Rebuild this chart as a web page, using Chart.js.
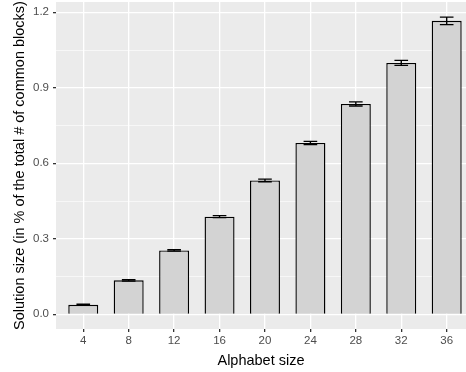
<!DOCTYPE html>
<html>
<head>
<meta charset="utf-8">
<script src="https://cdn.jsdelivr.net/npm/chart.js@4"></script>
<style>
  html, body { margin: 0; padding: 0; background: #fff; }
  #wrap { width: 466px; height: 372px; }
</style>
</head>
<body>
<div id="wrap"><canvas id="solutionChart" width="466" height="372"></canvas></div>
<script>
const alphabetSizes = [4, 8, 12, 16, 20, 24, 28, 32, 36];
const solutionSize = [0.038, 0.135, 0.254, 0.388, 0.532, 0.681, 0.836, 0.999, 1.166];
const solutionErr = [0.002, 0.003, 0.003, 0.004, 0.005, 0.006, 0.008, 0.010, 0.015];
const yTicks = [0, 0.15, 0.3, 0.45, 0.6, 0.75, 0.9, 1.05, 1.2];

const FONT = 'Liberation Sans, Arial, Helvetica, sans-serif';

// grey ggplot panel behind the grid
const panelBackground = {
  id: 'panelBackground',
  beforeDraw(chart) {
    const { ctx, chartArea: a } = chart;
    ctx.save();
    ctx.fillStyle = '#EBEBEB';
    ctx.fillRect(a.left, a.top, a.right - a.left, a.bottom - a.top);
    ctx.restore();
  }
};

// error bars from the mean +/- err arrays
const errorBars = {
  id: 'errorBars',
  afterDatasetsDraw(chart) {
    const { ctx, scales: { x, y } } = chart;
    const half = (x.getPixelForValue(4) - x.getPixelForValue(0)) * 0.15;
    ctx.save();
    ctx.strokeStyle = '#000';
    ctx.lineWidth = 1.4;
    alphabetSizes.forEach((a, i) => {
      const px = x.getPixelForValue(a);
      const hi = y.getPixelForValue(solutionSize[i] + solutionErr[i]);
      const lo = y.getPixelForValue(solutionSize[i] - solutionErr[i]);
      ctx.beginPath();
      ctx.moveTo(px, hi); ctx.lineTo(px, lo);
      ctx.moveTo(px - half, hi); ctx.lineTo(px + half, hi);
      ctx.moveTo(px - half, lo); ctx.lineTo(px + half, lo);
      ctx.stroke();
    });
    ctx.restore();
  }
};

const isMajor = v => Math.abs(Math.round(v / 0.3) * 0.3 - v) < 1e-6;

const config = {
  type: 'bar',
  data: {
    datasets: [{
      data: alphabetSizes.map((a, i) => ({ x: a, y: solutionSize[i] })),
      backgroundColor: '#D3D3D3',
      borderColor: '#000',
      borderWidth: 1.4,
      categoryPercentage: 1,
      barPercentage: 0.66
    }]
  },
  options: {
    responsive: false,
    animation: false,
    layout: { padding: { top: 2, right: 0, left: 0, bottom: 0 } },
    plugins: {
      legend: { display: false },
      tooltip: { enabled: false }
    },
    scales: {
      x: {
        type: 'linear',
        offset: false,
        min: 1.6,
        max: 37.7,
        afterBuildTicks: scale => { scale.ticks = alphabetSizes.map(v => ({ value: v })); },
        afterFit: scale => {
          scale.height = 43;
          scale.paddingLeft = 0;
          scale.paddingRight = 0;
        },
        border: { display: false },
        grid: {
          offset: false,
          color: '#FFFFFF',
          lineWidth: 1.3,
          tickColor: '#333333',
          tickLength: 3
        },
        ticks: {
          color: '#4D4D4D',
          font: { family: FONT, size: 11.5 },
          padding: 2,
          maxRotation: 0,
          callback: v => String(v)
        },
        title: {
          display: true,
          text: 'Alphabet size',
          color: '#000',
          font: { family: FONT, size: 14.5 },
          padding: { top: 0, bottom: 2 }
        }
      },
      y: {
        type: 'linear',
        min: -0.0584,
        max: 1.241,
        afterBuildTicks: scale => { scale.ticks = yTicks.map(v => ({ value: v })); },
        afterFit: scale => {
          scale.width = 56;
          scale.paddingTop = 0;
          scale.paddingBottom = 0;
        },
        border: { display: false },
        grid: {
          color: '#FFFFFF',
          lineWidth: ctx => isMajor(ctx.tick.value) ? 1.3 : 0.6,
          tickColor: ctx => isMajor(ctx.tick.value) ? '#333333' : 'rgba(0,0,0,0)',
          tickLength: 3
        },
        ticks: {
          color: '#4D4D4D',
          font: { family: FONT, size: 11.5 },
          padding: 4,
          callback: v => isMajor(v) ? v.toFixed(1) : ''
        },
        title: {
          display: true,
          text: 'Solution size (in % of the total # of common blocks)',
          color: '#000',
          font: { family: FONT, size: 14.5 },
          padding: { top: 11, bottom: 0 }
        }
      }
    }
  },
  plugins: [panelBackground, errorBars]
};

const chart = new Chart(document.getElementById('solutionChart'), config);
</script>
</body>
</html>
